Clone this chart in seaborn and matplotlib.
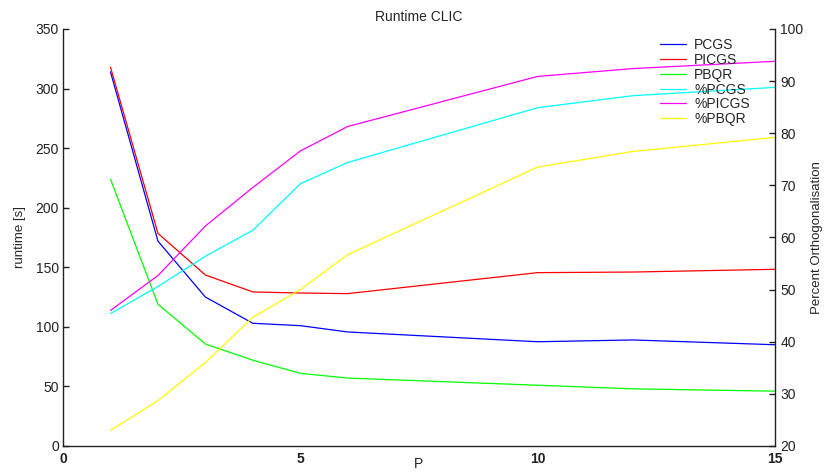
import matplotlib
matplotlib.use("Agg")
import matplotlib.pyplot as plt
import pandas as pd
import seaborn as sns

# number of processors
P = [1, 2, 3, 4, 5, 6, 10, 12, 15]

# runtime [s]
pcgs = [314, 172, 125, 103, 101, 95.7, 87.5, 89, 85]
picgs = [318, 178.5, 143.5, 129.3, 128.4, 127.9, 145.5, 146, 148.3]
pbqr = [224, 119, 85.6, 72, 61, 57, 51, 48, 46]

# percent orthogonalisation
pct_pcgs = [45.4, 50.6, 56.4, 61.4, 70.3, 74.4, 84.9, 87.2, 88.8]
pct_picgs = [46, 52.7, 62.2, 69.6, 76.6, 81.3, 90.9, 92.4, 93.8]
pct_pbqr = [23, 28.7, 36, 44.7, 50, 56.7, 73.5, 76.5, 79.2]

runtime_series = [("PCGS", pcgs, "#0000ff"), ("PICGS", picgs, "#ff0000"), ("PBQR", pbqr, "#00ff00")]
pct_series = [("%PCGS", pct_pcgs, "#00ffff"), ("%PICGS", pct_picgs, "#ff00ff"), ("%PBQR", pct_pbqr, "#ffff00")]

sns.set_style("white")
plt.rcParams["font.family"] = ["Liberation Sans", "DejaVu Sans"]

fig = plt.figure(figsize=(8.27, 4.73), dpi=100)
ax = fig.add_axes([0.0762, 0.0571, 0.8608, 0.8816])
ax2 = ax.twinx()

handles = []
for name, vals, col in runtime_series:
    df = pd.DataFrame({"P": P, "val": vals})
    sns.lineplot(data=df, x="P", y="val", ax=ax, color=col, linewidth=0.9, label=name, legend=False)
    handles.append(ax.lines[-1])
for name, vals, col in pct_series:
    df = pd.DataFrame({"P": P, "val": vals})
    sns.lineplot(data=df, x="P", y="val", ax=ax2, color=col, linewidth=0.9, label=name, legend=False)
    handles.append(ax2.lines[-1])

ax.set_xlim(0, 15)
ax.set_ylim(0, 350)
ax2.set_ylim(20, 100)
ax.set_xticks([0, 5, 10, 15])
ax.set_yticks(range(0, 351, 50))
ax2.set_yticks(range(20, 101, 10))

for a in (ax, ax2):
    a.spines["top"].set_visible(False)
    for s in a.spines.values():
        s.set_color("#222222")
        s.set_linewidth(1.0)
ax.spines["right"].set_visible(False)
ax2.spines["left"].set_visible(False)
ax2.spines["bottom"].set_visible(False)

ax.tick_params(axis="both", direction="in", length=4, width=1, labelsize=10, colors="#222222", pad=3)
ax.tick_params(axis="x", pad=4)
for t in ax.get_xticklabels():
    t.set_fontweight("bold")
ax2.tick_params(axis="y", direction="in", length=4, width=1, labelsize=10, colors="#222222", pad=4)

ax.set_xlabel("P", fontsize=10, labelpad=-6)
ax.set_ylabel("runtime [s]", fontsize=9.5, labelpad=7)
ax2.set_ylabel("Percent Orthogonalisation", fontsize=9.5, labelpad=5)
ax.set_title("Runtime CLIC", fontsize=10, pad=6)

ax2.legend(handles=handles, labels=[h.get_label() for h in handles],
           loc="upper left", bbox_to_anchor=(660 / 827, 1 - 38 / 473),
           bbox_transform=fig.transFigure, frameon=False,
           fontsize=10, handlelength=1.85, handletextpad=0.6, labelspacing=0.06,
           borderpad=0, borderaxespad=0)

fig.savefig("out.png", dpi=100)
